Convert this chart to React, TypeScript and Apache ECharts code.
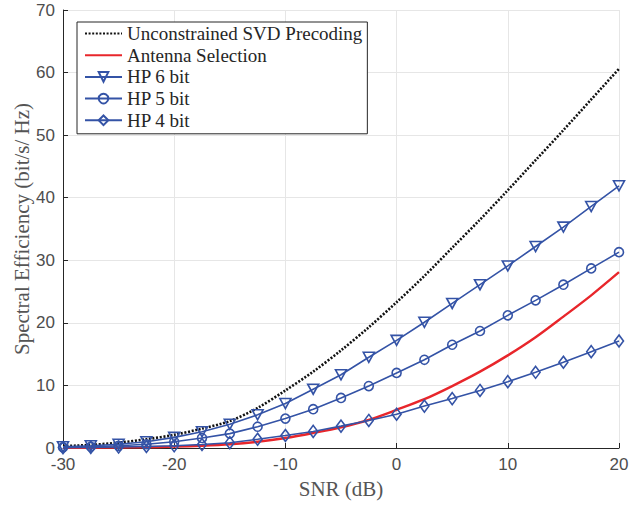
import React, { useEffect, useRef } from "react";
import * as echarts from "echarts";

const snr = [-30, -27.5, -25, -22.5, -20, -17.5, -15, -12.5, -10, -7.5, -5, -2.5, 0, 2.5, 5, 7.5, 10, 12.5, 15, 17.5, 20];
const unconstrainedSVD = [0.3, 0.5, 0.85, 1.4, 2.1, 3.1, 4.3, 6.4, 9.2, 12.2, 15.6, 19.3, 23.3, 27.5, 32.0, 36.5, 41.2, 46.0, 50.8, 55.7, 60.6];
const antennaSelection = [0.02, 0.04, 0.07, 0.13, 0.22, 0.37, 0.6, 1.0, 1.6, 2.4, 3.3, 4.5, 6.1, 7.8, 9.9, 12.2, 14.8, 17.7, 21.0, 24.4, 28.1];
const hp6 = [0.2, 0.35, 0.6, 1.0, 1.7, 2.6, 3.8, 5.3, 7.1, 9.4, 11.7, 14.5, 17.2, 20.1, 23.1, 26.1, 29.1, 32.2, 35.3, 38.6, 41.9];
const hp5 = [0.1, 0.2, 0.35, 0.6, 1.0, 1.6, 2.3, 3.4, 4.7, 6.2, 8.0, 9.9, 12.0, 14.1, 16.5, 18.7, 21.2, 23.6, 26.1, 28.7, 31.3];
const hp4 = [0.05, 0.1, 0.15, 0.25, 0.35, 0.55, 0.85, 1.4, 2.0, 2.65, 3.5, 4.4, 5.4, 6.7, 7.9, 9.2, 10.6, 12.1, 13.7, 15.4, 17.1];

const seriesNames = ["Unconstrained SVD Precoding", "Antenna Selection", "HP 6 bit", "HP 5 bit", "HP 4 bit"];
const xAxisTitle = "SNR (dB)";
const yAxisTitle = "Spectral Efficiency (bit/s/ Hz)";

const BLUE = "#3453a6";
const RED = "#e8262b";
const SERIF = "Liberation Serif";
const SANS = "Liberation Sans";

const pairs = (ys: number[]) => snr.map((x, i) => [x, ys[i]]);

export default function App() {
  const ref = useRef<HTMLDivElement>(null);
  useEffect(() => {
    if (!ref.current) return;
    const chart = echarts.init(ref.current, null, { renderer: "svg" });
    const blueSeries = (name: string, data: number[], symbol: string, size: any) => ({
      name,
      type: "line",
      data: pairs(data),
      symbol,
      symbolSize: size,
      showSymbol: true,
      color: BLUE,
      lineStyle: { color: BLUE, width: 1.6 },
      itemStyle: { color: "rgba(255,255,255,0)", borderColor: BLUE, borderWidth: 1.6 },
      z: 5,
    });
    const noMarker = { color: "rgba(0,0,0,0)", borderColor: "rgba(0,0,0,0)", borderWidth: 0 };
    const axisCommon = {
      axisLine: { show: true, onZero: false, lineStyle: { color: "#262626", width: 1 } },
      axisTick: { show: true, inside: true, length: 5, lineStyle: { color: "#262626" } },
      axisLabel: { fontFamily: SANS, fontSize: 17, color: "#4d4d4d", margin: 8 },
      splitLine: { show: true, lineStyle: { color: "#e6e6e6", width: 1 } },
    };
    chart.setOption({
      animation: false,
      backgroundColor: "#ffffff",
      grid: { left: 63, right: 23, top: 10, bottom: 57 },
      graphic: [
        {
          type: "text",
          x: 341,
          y: 489,
          style: {
            text: xAxisTitle,
            fontFamily: SERIF,
            fontSize: 21,
            fill: "#555555",
            textAlign: "center",
            textVerticalAlign: "middle",
          },
        },
        {
          type: "text",
          x: 22,
          y: 229,
          rotation: Math.PI / 2,
          style: {
            text: yAxisTitle,
            fontFamily: SERIF,
            fontSize: 21,
            fill: "#555555",
            textAlign: "center",
            textVerticalAlign: "middle",
          },
        },
      ],
      legend: {
        orient: "vertical",
        left: 77,
        top: 22,
        data: [
          { name: seriesNames[0], itemStyle: noMarker },
          { name: seriesNames[1], itemStyle: noMarker },
          { name: seriesNames[2] },
          { name: seriesNames[3] },
          { name: seriesNames[4] },
        ],
        backgroundColor: "#ffffff",
        borderColor: "#262626",
        borderWidth: 1,
        borderRadius: 0,
        padding: [2, 5, 4, 7],
        itemGap: 2.7,
        itemWidth: 37,
        itemHeight: 12,
        textStyle: { fontFamily: SERIF, fontSize: 19, color: "#262626", lineHeight: 19 },
      },
      xAxis: {
        type: "value",
        min: -30,
        max: 20,
        interval: 10,
        ...axisCommon,
      },
      yAxis: {
        type: "value",
        min: 0,
        max: 70,
        interval: 10,
        ...axisCommon,
      },
      series: [
        {
          name: seriesNames[0],
          type: "line",
          data: pairs(unconstrainedSVD),
          smooth: 0.3,
          showSymbol: false,
          symbol: "none",
          color: "#1a1a1a",
          lineStyle: { color: "#111111", width: 2.6, type: [2, 1.6] },
          z: 3,
        },
        {
          name: seriesNames[1],
          type: "line",
          data: pairs(antennaSelection),
          smooth: 0.3,
          showSymbol: false,
          symbol: "none",
          color: RED,
          lineStyle: { color: RED, width: 2.4 },
          z: 4,
        },
        blueSeries(seriesNames[2], hp6, "path://M0,0 L10,0 L5,9 Z", [11, 10]),
        blueSeries(seriesNames[3], hp5, "circle", 9),
        blueSeries(seriesNames[4], hp4, "diamond", [9, 12]),
      ],
    });
    return () => chart.dispose();
  }, []);
  return (
    <div
      ref={ref}
      style={{ position: "fixed", left: 0, top: 0, width: 642, height: 505, background: "#fff" }}
    />
  );
}
